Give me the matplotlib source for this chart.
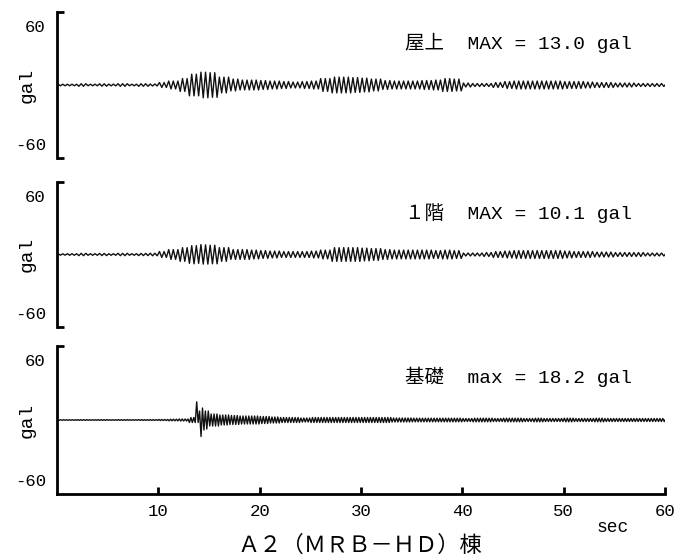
import numpy as np
import matplotlib.pyplot as plt

# envelope of each record, gal, one value per second (0..59 s)
env_roof = [0.8, 0.8, 1.3, 0.8, 1.2, 0.9, 1.3, 0.8, 1.3, 1.0,
            2.5, 4.0, 6.5, 11.0, 13.0, 12.5, 8.0, 6.0, 5.0, 5.0,
            4.5, 4.0, 3.5, 3.0, 3.5, 4.0, 6.5, 8.0, 8.0, 7.5,
            7.0, 6.0, 4.5, 4.0, 4.0, 4.0, 4.5, 5.0, 6.5, 6.0,
            2.0, 1.5, 1.5, 2.5, 3.5, 4.0, 4.0, 4.0, 4.0, 4.0,
            3.5, 3.5, 3.0, 2.5, 2.5, 2.0, 2.0, 1.5, 1.5, 1.5]
env_1f = [0.7, 0.8, 1.2, 0.8, 1.1, 0.8, 1.2, 0.8, 1.1, 1.3,
          3.0, 5.0, 7.0, 9.0, 9.8, 9.5, 7.0, 5.0, 5.0, 4.5,
          4.0, 3.5, 3.0, 3.0, 3.0, 3.5, 4.5, 7.0, 7.0, 7.0,
          6.5, 6.0, 5.0, 4.5, 4.5, 4.5, 4.5, 4.0, 4.5, 4.0,
          1.5, 1.5, 2.0, 3.0, 3.5, 4.0, 4.0, 4.0, 4.0, 4.0,
          3.5, 3.0, 3.0, 2.5, 2.5, 2.0, 2.0, 2.0, 1.5, 1.5]
env_base = [0.3, 0.3, 0.4, 0.3, 0.4, 0.3, 0.4, 0.3, 0.4, 0.4,
            0.5, 0.8, 1.0, 2.5, 9.0, 6.0, 5.0, 4.5, 4.0, 4.0,
            3.5, 3.0, 2.5, 2.5, 2.0, 2.5, 2.5, 2.5, 2.5, 2.5,
            2.5, 2.5, 2.5, 2.0, 2.0, 1.8, 1.8, 1.8, 1.8, 1.8,
            1.5, 1.8, 1.8, 1.5, 1.8, 1.8, 1.5, 1.8, 1.5, 1.5,
            1.8, 1.5, 1.5, 1.8, 1.5, 1.5, 1.5, 1.5, 1.5, 1.5]

# dominant frequency (Hz) counted on the scan
freqs = [2.2, 2.2, 3.5]

# largest excursions (time s, value gal)
peaks_roof = [(14.5, 13.0), (15.7, -12.5), (13.6, 11.0)]
peaks_1f = [(14.2, 10.1), (13.6, -9.5)]
peaks_base = [(13.9, 18.2), (14.1, -16.5), (14.3, 12.0), (14.5, -10.0)]

titles = ['屋上  MAX = 13.0 gal', '１階  MAX = 10.1 gal', '基礎  max = 18.2 gal']
xticks = [10, 20, 30, 40, 50, 60]
yticks = [-60, 60]

MONO = ['Liberation Mono', 'Noto Sans CJK JP']
CJK = ['Noto Sans CJK JP', 'DejaVu Sans']


def trace(env, freq, peaks):
    env = np.array(env)
    half = 0.5 / freq
    t = np.arange(half / 2, 60, half)
    sign = np.where(np.arange(len(t)) % 2 == 0, 1.0, -1.0)
    y = sign * env[t.astype(int)]
    for pt, pv in peaks:
        i = np.argmin(np.abs(t - pt) + (np.sign(y) != np.sign(pv)) * 10)
        y[i] = pv
    t = np.concatenate([[0], t, [60]])
    y = np.concatenate([[0], y, [0]])
    return t, y


W, H = 688, 557
fig = plt.figure(figsize=(6.88, 5.57), dpi=100)

rows = [(12, 158), (182, 327), (346, 494)]   # top/bottom pixel rows
x0, x1 = 57, 665
data = [(env_roof, peaks_roof), (env_1f, peaks_1f), (env_base, peaks_base)]

for k, ((top, bot), (env, pk)) in enumerate(zip(rows, data)):
    ax = fig.add_axes([x0 / W, 1 - bot / H, (x1 - x0) / W, (bot - top) / H])
    t, y = trace(env, freqs[k], pk)
    ax.plot(t, y, color='#111111', lw=1.0)
    ax.set_xlim(0, 60)
    ax.set_ylim(-74, 74)
    for s in ['top', 'right']:
        ax.spines[s].set_visible(False)
    ax.spines['left'].set_linewidth(2)
    ax.set_yticks(yticks)
    ax.set_yticklabels(['-60', '60'], family=MONO, fontsize=12.5)
    ax.tick_params(axis='y', length=0, pad=8)
    # bracket serifs
    ax.plot([0, 0.012], [1, 1], transform=ax.transAxes, color='k', lw=2,
            clip_on=False, solid_capstyle='butt')
    if k < 2:
        ax.spines['bottom'].set_visible(False)
        ax.plot([0, 0.012], [0, 0], transform=ax.transAxes, color='k', lw=2,
                clip_on=False, solid_capstyle='butt')
        ax.set_xticks([])
    else:
        ax.spines['bottom'].set_linewidth(2)
        ax.set_xticks(xticks)
        ax.set_xticklabels([str(v) for v in xticks], family=MONO, fontsize=12.5)
        ax.tick_params(axis='x', direction='in', length=5, width=2, pad=7)
    zero_px = (top + bot) / 2
    fig.text(27 / W, 1 - zero_px / H, 'gal', rotation=90, ha='center',
             va='center', family=MONO, fontsize=14)
    title_y = [43, 213, 377][k]
    fig.text(632 / W, 1 - title_y / H, titles[k], ha='right', va='center',
             family=MONO, fontsize=14)

fig.text(613 / W, 1 - 528 / H, 'sec', ha='center', va='center',
         family=MONO, fontsize=13)
fig.text(360 / W, 1 - 545 / H, 'Ａ２（ＭＲＢ－ＨＤ）棟', ha='center', va='center',
         family=CJK, fontsize=16)

fig.savefig('out.png', dpi=100, facecolor='white')
